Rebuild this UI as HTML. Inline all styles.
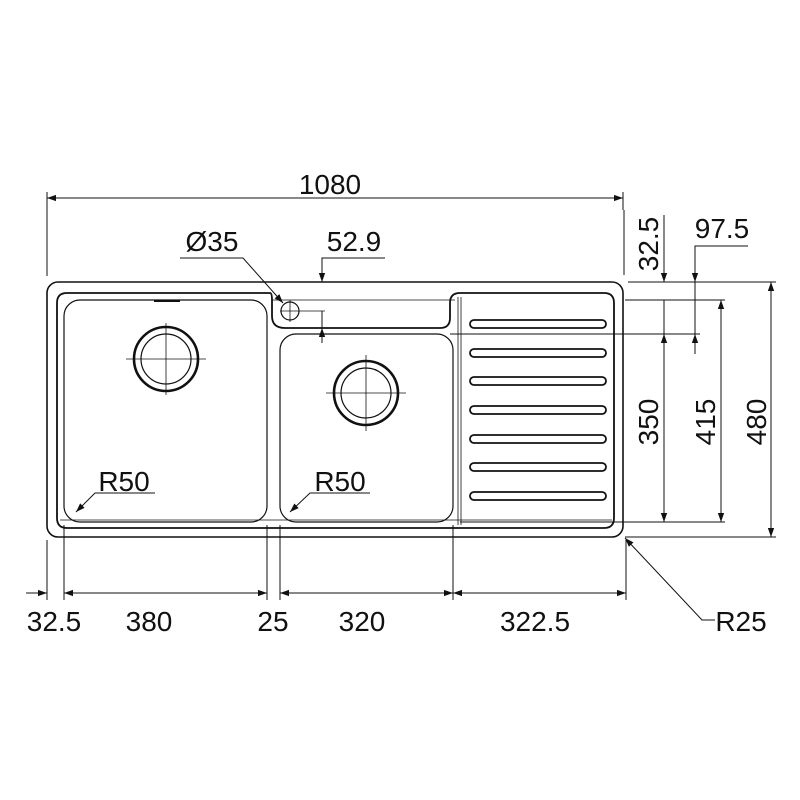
<!DOCTYPE html>
<html><head><style>body{margin:0;background:#fff}svg{display:block}</style></head><body>
<svg width="800" height="800" viewBox="0 0 800 800" xmlns="http://www.w3.org/2000/svg" font-family="Liberation Sans, Arial, sans-serif" fill="none" stroke="#111">
<defs>
<marker id="a" viewBox="0 0 10 10" refX="10" refY="5" markerWidth="15" markerHeight="9" markerUnits="userSpaceOnUse" orient="auto-start-reverse"><path d="M0,1.5 L10,5 L0,8.5z" fill="#111" stroke="none"/></marker>
</defs>
<rect x="47" y="282" width="576" height="255" rx="11" stroke-width="1.6"/>
<path d="M67,293 H270 Q272,293 272,300 V316 Q272,328 285,328 H440 Q450,328 450,318 V303 Q450,293 460,293 H604 Q614,293 614,303 V518 Q614,528 604,528 H67 Q57,528 57,518 V303 Q57,293 67,293Z" stroke-width="1.8"/>
<line x1="272" y1="300" x2="455" y2="300" stroke-width="0.8"/>
<line x1="458" y1="297" x2="458" y2="525" stroke-width="0.8"/>
<line x1="461" y1="297" x2="461" y2="525" stroke-width="0.8"/>
<line x1="60" y1="520" x2="612" y2="520" stroke-width="0.8"/>
<rect x="64" y="300" width="203" height="222" rx="16" stroke-width="1.2"/>
<rect x="280" y="334" width="173" height="188" rx="16" stroke-width="1.2"/>
<line x1="154" y1="301" x2="180" y2="301" stroke-width="2"/>
<circle cx="166" cy="359" r="32" stroke-width="2.6"/><circle cx="166" cy="359" r="25" stroke-width="1.2"/>
<line x1="126" y1="359" x2="206" y2="359" stroke-width="0.8"/><line x1="166" y1="323" x2="166" y2="395" stroke-width="0.8"/>
<circle cx="366" cy="393" r="32" stroke-width="2.6"/><circle cx="366" cy="393" r="25" stroke-width="1.2"/>
<line x1="326" y1="393" x2="406" y2="393" stroke-width="0.8"/><line x1="366" y1="355" x2="366" y2="431" stroke-width="0.8"/>
<circle cx="290" cy="311" r="9" stroke-width="1.2"/>
<line x1="280" y1="311" x2="325" y2="311" stroke-width="0.8"/><line x1="290" y1="300" x2="290" y2="322" stroke-width="0.8"/>
<g stroke-width="1.8">
<rect x="470" y="320" width="136" height="8" rx="4"/><rect x="470" y="349" width="136" height="8" rx="4"/>
<rect x="470" y="377" width="136" height="8" rx="4"/><rect x="470" y="406" width="136" height="8" rx="4"/>
<rect x="470" y="435" width="136" height="8" rx="4"/><rect x="470" y="463" width="136" height="8" rx="4"/>
<rect x="470" y="492" width="136" height="8" rx="4"/>
</g>
<g stroke-width="1">
<line x1="47" y1="192" x2="47" y2="276"/><line x1="623" y1="192" x2="623" y2="210"/>
<line x1="47" y1="198" x2="623" y2="198" marker-start="url(#a)" marker-end="url(#a)"/>
<polyline points="180,258 243,258 283,303" marker-end="url(#a)"/>
<polyline points="385,258 322,258 322,282" marker-end="url(#a)"/>
<line x1="322" y1="343" x2="322" y2="328" marker-end="url(#a)"/>
<line x1="322" y1="311" x2="322" y2="328"/>
<line x1="47" y1="540" x2="47" y2="600"/><line x1="64" y1="525" x2="64" y2="600"/>
<line x1="267" y1="525" x2="267" y2="600"/><line x1="280" y1="525" x2="280" y2="600"/>
<line x1="453" y1="525" x2="453" y2="600"/><line x1="626" y1="540" x2="626" y2="600"/>
<line x1="26" y1="593" x2="47" y2="593" marker-end="url(#a)"/>
<line x1="64" y1="593" x2="267" y2="593" marker-start="url(#a)" marker-end="url(#a)"/>
<line x1="280" y1="593" x2="453" y2="593" marker-start="url(#a)" marker-end="url(#a)"/>
<line x1="453" y1="593" x2="626" y2="593" marker-start="url(#a)" marker-end="url(#a)"/>
<polyline points="715,620 702,620 625,538" marker-end="url(#a)"/>
<line x1="628" y1="282" x2="776" y2="282"/><line x1="625" y1="300" x2="725" y2="300"/>
<line x1="450" y1="334" x2="700" y2="334"/><line x1="460" y1="522" x2="725" y2="522"/>
<line x1="625" y1="537" x2="776" y2="537"/>
<line x1="624" y1="210" x2="624" y2="275"/>
<line x1="664" y1="215" x2="664" y2="282" marker-end="url(#a)"/>
<line x1="664" y1="300" x2="664" y2="334"/>
<line x1="664" y1="334" x2="664" y2="522" marker-start="url(#a)" marker-end="url(#a)"/>
<polyline points="748,246 695,246 695,282" marker-end="url(#a)"/>
<line x1="695" y1="282" x2="695" y2="334"/>
<line x1="695" y1="354" x2="695" y2="334" marker-end="url(#a)"/>
<line x1="721" y1="300" x2="721" y2="522" marker-start="url(#a)" marker-end="url(#a)"/>
<line x1="771" y1="282" x2="771" y2="537" marker-start="url(#a)" marker-end="url(#a)"/>
<polyline points="155,493 95,493 76,512" marker-end="url(#a)"/>
<polyline points="370,493 310,493 290,512" marker-end="url(#a)"/>
</g>
<g fill="#111" stroke="none" font-size="28">
<text x="330" y="194" text-anchor="middle">1080</text>
<text x="212" y="251" text-anchor="middle">Ø35</text>
<text x="354" y="251" text-anchor="middle">52.9</text>
<text x="124" y="491" text-anchor="middle">R50</text>
<text x="340" y="491" text-anchor="middle">R50</text>
<text x="722" y="238" text-anchor="middle">97.5</text>
<text x="54" y="631" text-anchor="middle">32.5</text>
<text x="149" y="631" text-anchor="middle">380</text>
<text x="273" y="631" text-anchor="middle">25</text>
<text x="362" y="631" text-anchor="middle">320</text>
<text x="535" y="631" text-anchor="middle">322.5</text>
<text x="741" y="631" text-anchor="middle">R25</text>
<text transform="translate(658,244) rotate(-90)" text-anchor="middle">32.5</text>
<text transform="translate(658,422) rotate(-90)" text-anchor="middle">350</text>
<text transform="translate(715,422) rotate(-90)" text-anchor="middle">415</text>
<text transform="translate(766,422) rotate(-90)" text-anchor="middle">480</text>
</g>
</svg>
</body></html>
